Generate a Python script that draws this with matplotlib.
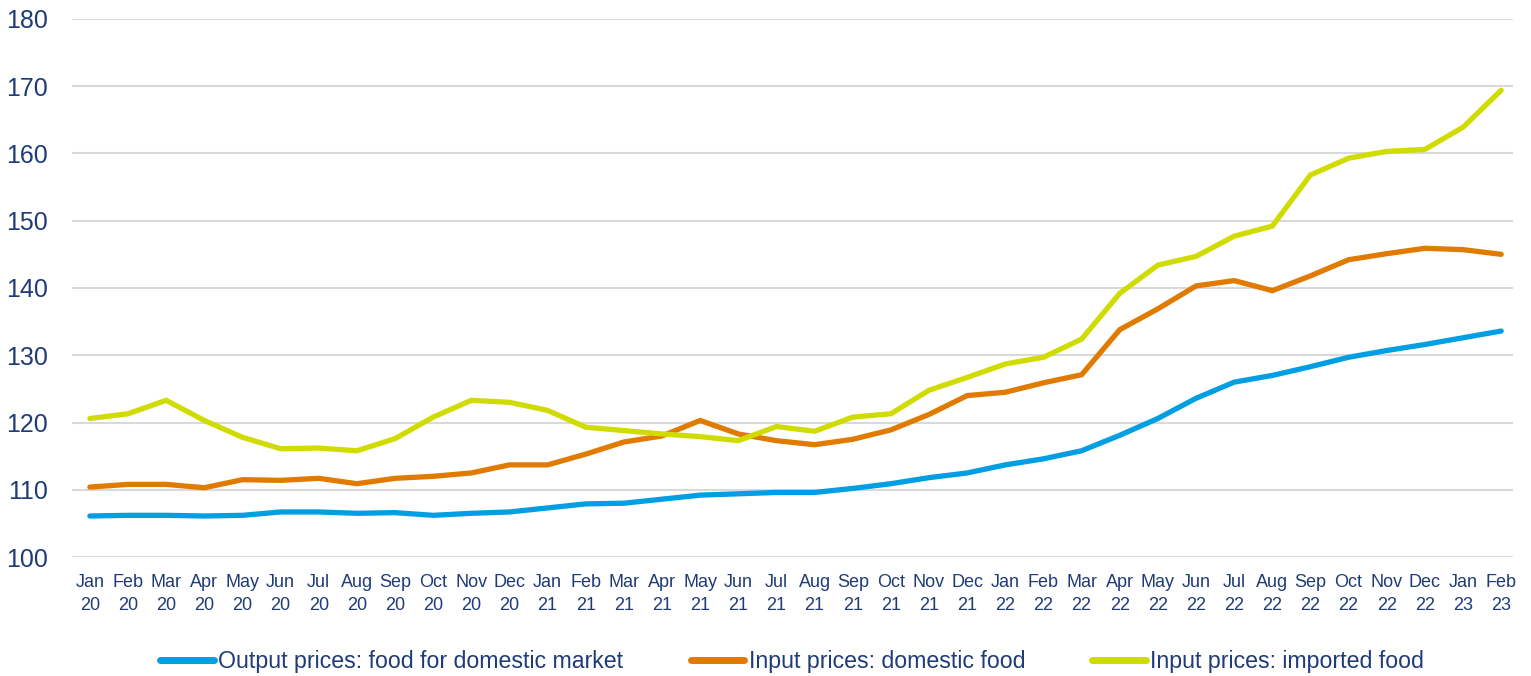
import matplotlib.pyplot as plt

# month labels Jan 20 .. Feb 23
months = ['Jan', 'Feb', 'Mar', 'Apr', 'May', 'Jun', 'Jul', 'Aug', 'Sep', 'Oct', 'Nov', 'Dec']
labels = []
for yr in ['20', '21', '22']:
    for m in months:
        labels.append(m + '\n' + yr)
labels += ['Jan\n23', 'Feb\n23']

output_food = [106.1, 106.2, 106.2, 106.1, 106.2, 106.7, 106.7, 106.5, 106.6, 106.2, 106.5, 106.7,
               107.3, 107.9, 108.0, 108.6, 109.2, 109.4, 109.6, 109.6, 110.2, 110.9, 111.8, 112.5,
               113.7, 114.6, 115.8, 118.1, 120.6, 123.6, 126.0, 127.0, 128.3, 129.7, 130.7, 131.6,
               132.6, 133.6]
input_domestic = [110.4, 110.8, 110.8, 110.3, 111.5, 111.4, 111.7, 110.9, 111.7, 112.0, 112.5, 113.7,
                  113.7, 115.3, 117.1, 118.0, 120.3, 118.3, 117.3, 116.7, 117.5, 118.9, 121.2, 124.0,
                  124.5, 125.9, 127.1, 133.8, 136.9, 140.3, 141.1, 139.6, 141.8, 144.2, 145.1, 145.9,
                  145.7, 145.0]
input_imported = [120.6, 121.3, 123.3, 120.3, 117.8, 116.1, 116.2, 115.8, 117.6, 120.8, 123.3, 123.0,
                  121.8, 119.3, 118.8, 118.3, 117.9, 117.3, 119.4, 118.7, 120.8, 121.3, 124.8, 126.7,
                  128.7, 129.7, 132.4, 139.2, 143.4, 144.7, 147.7, 149.2, 156.8, 159.3, 160.3, 160.6,
                  163.9, 169.4]

plt.rcParams['font.family'] = ['Liberation Sans', 'DejaVu Sans']
navy = '#1f3b78'

fig = plt.figure(figsize=(15.31, 6.76), dpi=100)
ax = fig.add_axes([0.047, 0.176, 0.941, 0.796])

x = list(range(len(labels)))
ax.plot(x, output_food, color='#009fe3', lw=3.8, solid_capstyle='round', solid_joinstyle='miter',
        label='Output prices: food for domestic market')
ax.plot(x, input_domestic, color='#e07b00', lw=3.8, solid_capstyle='round', solid_joinstyle='miter',
        label='Input prices: domestic food')
ax.plot(x, input_imported, color='#d0dc00', lw=3.8, solid_capstyle='round', solid_joinstyle='miter',
        label='Input prices: imported food')

ax.set_ylim(100, 180)
ax.set_yticks(range(100, 181, 10))
ax.set_xlim(-0.47, 37.3)
ax.set_xticks(x)
ax.set_xticklabels(labels, fontsize=13, color=navy, linespacing=1.45)
ax.tick_params(axis='y', labelsize=18, labelcolor=navy, length=0, pad=17)
ax.tick_params(axis='x', length=0, pad=12)
for lab in ax.get_yticklabels():
    lab.set_horizontalalignment('right')

ax.grid(axis='y', color='#d9d9d9', lw=1.5)
ax.set_axisbelow(True)
for s in ax.spines.values():
    s.set_visible(False)

leg = ax.legend(loc='center', bbox_to_anchor=(0.5, -0.195), ncol=3, frameon=False,
                fontsize=16.7, handlelength=2.3, handletextpad=0.2, columnspacing=2.9)
for t in leg.get_texts():
    t.set_color(navy)
for h in leg.get_lines():
    h.set_linewidth(5)

plt.savefig('out.png', dpi=100)
